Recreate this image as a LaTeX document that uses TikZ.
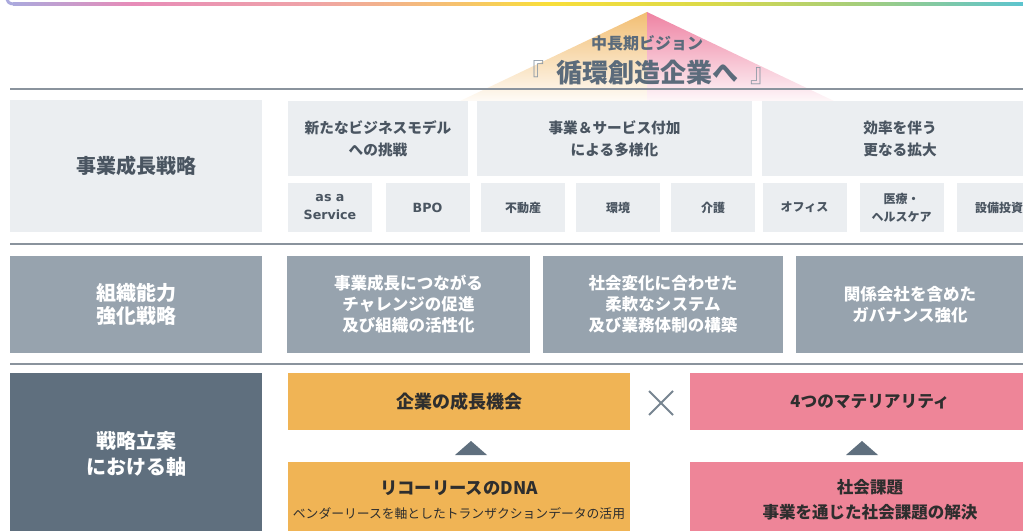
\documentclass[tikz,border=0pt]{standalone}
\usepackage{fontspec}
\newfontfamily\jpfont{Noto Sans CJK JP}
\newfontfamily\latfont{DejaVu Sans}

\definecolor{bar0}{HTML}{ABA9DD}
\definecolor{bar1}{HTML}{E78CB8}
\definecolor{bar2}{HTML}{EFA3A8}
\definecolor{bar3}{HTML}{F6C26E}
\definecolor{bar4}{HTML}{F9DE3A}
\definecolor{bar5}{HTML}{DCDA48}
\definecolor{bar6}{HTML}{A8CE78}
\definecolor{bar7}{HTML}{5CC4CF}
\definecolor{triorange}{HTML}{F2BE72}
\definecolor{tripink}{HTML}{EE82A2}
\definecolor{boxlight}{HTML}{EBEEF1}
\definecolor{boxmid}{HTML}{97A3AE}
\definecolor{boxdark}{HTML}{5F6F7E}
\definecolor{boxorange}{HTML}{F0B455}
\definecolor{boxpink}{HTML}{EE8598}
\definecolor{txtgray}{HTML}{4A5561}
\definecolor{txtdark}{HTML}{2E2E2E}
\definecolor{txtvision}{HTML}{5B6B7B}
\definecolor{brkgray}{HTML}{8E9AA6}
\definecolor{rulegray}{HTML}{8A939D}

\pgfdeclarehorizontalshading{rainbowbar}{100bp}{color(0bp)=(bar0); color(25bp)=(bar0); color(30.9bp)=(bar1); color(39.7bp)=(bar2); color(47bp)=(bar3); color(51.4bp)=(bar4); color(59.2bp)=(bar5); color(66.5bp)=(bar6); color(75bp)=(bar7); color(100bp)=(bar7)}

\tikzset{every picture/.style={line width=0.75pt},
  sepline/.style={draw=rulegray, line width=1.5pt},
  lightbox/.style={fill=boxlight, text=txtgray, align=center, inner sep=0pt},
  midbox/.style={fill=boxmid, text=white, align=center, inner sep=0pt},
  darkbox/.style={fill=boxdark, text=white, align=center, inner sep=0pt},
  orangebox/.style={fill=boxorange, text=txtdark, align=center, inner sep=0pt},
  pinkbox/.style={fill=boxpink, text=txtdark, align=center, inner sep=0pt},
  labelfont/.style={font=\jpfont\bfseries\fontsize{15}{17.5}\selectfont},
  themefont/.style={font=\jpfont\bfseries\fontsize{11}{16.5}\selectfont},
  itemfont/.style={font=\jpfont\bfseries\fontsize{9}{13.5}\selectfont},
  smallitem/.style={lightbox, itemfont, minimum width=63pt, minimum height=36.75pt},
  upmark/.style={fill=boxdark},
}

\begin{document}
\begin{tikzpicture}[x=0.75pt,y=0.75pt,yscale=-1,xscale=1]
\useasboundingbox (0,0) rectangle (1023,531);
\clip (0,0) rectangle (1023,531);

%Top frame
\draw [bar0, line width=2.25pt] (7,-3) .. controls (7,2) and (9,4) .. (14,4) ;
\shade [shading=rainbowbar] (13,2.5) rectangle (1023,5.5) ;

%Vision triangle
\shade [top color=triorange, bottom color=triorange!6!white] (647,12) -- (460,101) -- (647,101) -- cycle ;
\shade [top color=tripink, bottom color=tripink!6!white] (647,12) -- (834,101) -- (647,101) -- cycle ;

% Text Node
\node [text=txtvision, font=\jpfont\bfseries\fontsize{12}{14}\selectfont] (vision) at (647,43) {中長期ビジョン};
% Text Node
\node [text=txtvision, font=\jpfont\bfseries\fontsize{19.5}{22}\selectfont] (visiontitle) at (647,73)
  {{\mdseries\color{brkgray}『}\hspace{9pt}循環創造企業へ\hspace{9pt}{\mdseries\color{brkgray}』}};

%Separators
\draw [sepline] (10,89) -- (1023,89) ;
\draw [sepline] (10,244) -- (1023,244) ;
\draw [sepline] (10,364) -- (1023,364) ;

%Business growth strategy
\node [lightbox, labelfont, minimum width=189pt, minimum height=99pt] (growth) at (136,166) {事業成長戦略};
\node [lightbox, themefont, minimum width=135pt, minimum height=56.25pt] (newmodel) at (378,138.5) {新たなビジネスモデル\\への挑戦};
\node [lightbox, themefont, minimum width=206.25pt, minimum height=56.25pt] (diverse) at (614.5,138.5) {事業＆サービス付加\\による多様化};
\node [lightbox, themefont, minimum width=207pt, minimum height=56.25pt] (expand) at (900,138.5) {効率を伴う\\更なる拡大};

\node [smallitem, font=\latfont\bfseries\fontsize{9.5}{13.5}\selectfont] (aas) at (330,207.5) {as a\\Service};
\node [smallitem, font=\latfont\bfseries\fontsize{9.5}{13.5}\selectfont] (bpo) at (427.5,207.5) {BPO};
\node [smallitem] (estate) at (523,207.5) {不動産};
\node [smallitem] (envir) at (618,207.5) {環境};
\node [smallitem] (care) at (713,207.5) {介護};
\node [smallitem] (office) at (804.5,207.5) {オフィス};
\node [smallitem] (health) at (901.5,207.5) {医療・\\ヘルスケア};
\node [smallitem] (capex) at (999,207.5) {設備投資};

%Organisation strategy
\node [midbox, labelfont, minimum width=189pt, minimum height=72.75pt] (organ) at (136,304.5) {組織能力\\強化戦略};
\node [midbox, font=\jpfont\bfseries\fontsize{12.4}{15.75}\selectfont, minimum width=182.25pt, minimum height=72.75pt] (challenge) at (408.5,304.5) {事業成長につながる\\チャレンジの促進\\及び組織の活性化};
\node [midbox, font=\jpfont\bfseries\fontsize{12.4}{15.75}\selectfont, minimum width=180pt, minimum height=72.75pt] (system) at (663,304.5) {社会変化に合わせた\\柔軟なシステム\\及び業務体制の構築};
\node [midbox, font=\jpfont\bfseries\fontsize{12.4}{15.75}\selectfont, minimum width=171pt, minimum height=72.75pt] (govern) at (910,304.5) {関係会社を含めた\\ガバナンス強化};

%Strategy axis
\node [darkbox, font=\jpfont\bfseries\fontsize{15}{19.5}\selectfont, minimum width=189pt, minimum height=121.5pt] (axis) at (136,454) {戦略立案\\における軸};
\node [orangebox, font=\jpfont\bfseries\fontsize{13.5}{16}\selectfont, minimum width=256.5pt, minimum height=42.75pt] (chance) at (459,401.5) {企業の成長機会};
\node [orangebox, font=\jpfont\bfseries\fontsize{13}{18}\selectfont, minimum width=256.5pt, minimum height=57pt] (dna) at (459,500)
  {リコーリースのDNA\\{\mdseries\fontsize{9.6}{18}\selectfont ベンダーリースを軸としたトランザクションデータの活用}};
\node [pinkbox, font=\jpfont\bfseries\fontsize{12.5}{16}\selectfont, minimum width=270pt, minimum height=42.75pt] (materia) at (870,401.5) {4つのマテリアリティ};
\node [pinkbox, font=\jpfont\bfseries\fontsize{12.4}{18.75}\selectfont, minimum width=270pt, minimum height=57pt] (social) at (870,500) {社会課題\\事業を通じた社会課題の解決};

%Up marks
\fill [upmark] (455,455) -- (471,441) -- (487,455) -- cycle ;
\fill [upmark] (846,455) -- (862,441) -- (878,455) -- cycle ;

%Cross
\draw [draw=boxdark!85!white, line width=1.5pt] (649,391) -- (673,415) ;
\draw [draw=boxdark!85!white, line width=1.5pt] (673,391) -- (649,415) ;

\end{tikzpicture}
\end{document}
